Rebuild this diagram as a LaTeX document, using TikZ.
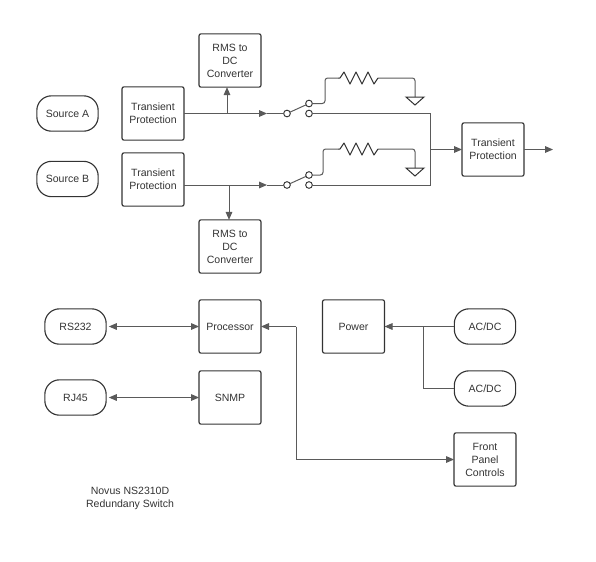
\documentclass[tikz,border=0pt]{standalone}
\usepackage{fontspec}
\setmainfont{Liberation Sans}
\usetikzlibrary{arrows.meta,calc}
\definecolor{ln}{HTML}{5A5A5A}
\definecolor{bx}{HTML}{333333}
\definecolor{tx}{HTML}{333333}
\tikzset{
  every node/.style={font=\fontsize{7.9pt}{9.7pt}\selectfont,text=tx,align=center,inner sep=0pt,outer sep=0pt},
  blockbox/.style={draw=bx,line width=0.85pt,rounded corners=1.5pt},
  sq/.style={blockbox,minimum width=46.5pt,minimum height=40pt},
  pill/.style={draw=bx,line width=0.85pt,rounded corners=11pt,minimum width=46pt,minimum height=26.5pt},
  conn/.style={draw=ln,line width=0.75pt},
  arr/.style={conn,-{Triangle[length=6pt,width=5pt]}},
  darr/.style={conn,{Triangle[length=6pt,width=5pt]}-{Triangle[length=6pt,width=5pt]}},
  contact/.style={circle,draw=bx,line width=0.7pt,minimum size=5pt,fill=white},
  gnd/.style={draw=bx,line width=0.75pt},
  res/.style={draw=bx,line width=0.75pt,line join=round}
}
\begin{document}
\begin{tikzpicture}[x=0.75pt,y=-0.75pt]
\useasboundingbox (0,0) rectangle (596,561);
% blocks
\node[pill] (srca) at (67.5,113.5) {Source A};
\node[pill] (srcb) at (67.5,179) {Source B};
\node[sq] (tpa) at (153,113.5) {Transient\\Protection};
\node[sq] (tpb) at (153,179.5) {Transient\\Protection};
\node[sq] (rmsa) at (230,60.5) {RMS to\\DC\\Converter};
\node[sq] (rmsb) at (230,246.5) {RMS to\\DC\\Converter};
\node[sq] (tpo) at (493,149.5) {Transient\\Protection};
\node[sq] (proc) at (230,326.5) {Processor};
\node[sq] (snmp) at (230,397.5) {SNMP};
\node[pill] (rs) at (75.5,326.5) {RS232};
\node[pill] (rj) at (75.5,397.5) {RJ45};
\node[sq] (pwr) at (353.5,326.5) {Power};
\node[pill] (aca) at (485,326.5) {AC/DC};
\node[pill] (acb) at (485,388.5) {AC/DC};
\node[sq] (fp) at (485,459.5) {Front\\Panel\\Controls};
\node (cap) at (130,498) {Novus NS2310D\\Redundany Switch};
% switch contacts
\node[contact] (ca) at (287,113.5) {};
\node[contact] (au) at (309,103.5) {};
\node[contact] (al) at (309,113.5) {};
\node[contact] (cb) at (287,185) {};
\node[contact] (bu) at (309,175) {};
\node[contact] (bl) at (309,185) {};
\draw[conn] (ca) -- (au);
\draw[conn] (cb) -- (bu);
% junctions and helpers
\coordinate (ja) at (227,113.5);
\coordinate (jb) at (229,185);
\coordinate (bus1) at (430,113.5);
\coordinate (bus2) at (430,185);
\coordinate (busm) at (430,149.5);
\coordinate (ax) at (267,113.5);
\coordinate (bx2) at (267,185);
\coordinate (out) at (553,149.5);
% input lines
\draw[arr] (tpa.east) -- (ax);
\draw[conn] (ax) -- (ca);
\draw[arr] (tpb.east |- jb) -- (bx2);
\draw[conn] (bx2) -- (cb);
\draw[arr] (ja) -- (ja |- rmsa.south);
\draw[arr] (jb) -- (jb |- rmsb.north);
% outputs to bus
\draw[conn] (al) -- (bus1) -- (bus2) -- (bl);
\draw[arr] (busm) -- (tpo.west);
\draw[arr] (tpo.east) -- (out);
% upper branch with resistors
\coordinate (ra1) at (338,78);
\coordinate (ra2) at (378,78);
\coordinate (rb1) at (338,149);
\coordinate (rb2) at (378,149);
\coordinate (ga) at (415,97);
\coordinate (gb) at (415,168);
\draw[conn,rounded corners=2pt] (au) -- (325,103.5) -- (325,78) -- (ra1);
\draw[conn,rounded corners=2pt] (ra2) -- (415,78) -- (ga);
\draw[conn,rounded corners=2pt] (bu) -- (323,175) -- (323,149) -- (rb1);
\draw[conn,rounded corners=2pt] (rb2) -- (415,149) -- (gb);
\draw[res] (ra1) -- ++(2,0) -- ++(4,-6) -- ++(6,12) -- ++(6,-12) -- ++(6,12) -- ++(6,-12) -- ++(6,12) -- (ra2);
\draw[res] (rb1) -- ++(2,0) -- ++(4,-6) -- ++(6,12) -- ++(6,-12) -- ++(6,12) -- ++(6,-12) -- ++(6,12) -- (rb2);
\draw[gnd] (ga) ++(-9,0) -- ++(18,0) -- (415,105) -- cycle;
\draw[gnd] (gb) ++(-9,0) -- ++(18,0) -- (415,176) -- cycle;
% lower half
\draw[darr,shorten <=2pt] (rs.east) -- (proc.west);
\draw[darr,shorten <=2pt] (rj.east) -- (snmp.west);
\draw[arr] (aca.west) -- (pwr.east);
\coordinate (jac) at (423,326.5);
\draw[conn] (jac) -- (423,388.5) -- (acb.west);
\coordinate (fa) at (296,326.5);
\draw[arr] (fa) -- (proc.east);
\draw[arr] (fa) -- (296,459.5) -- (fp.west);
\end{tikzpicture}
\end{document}
